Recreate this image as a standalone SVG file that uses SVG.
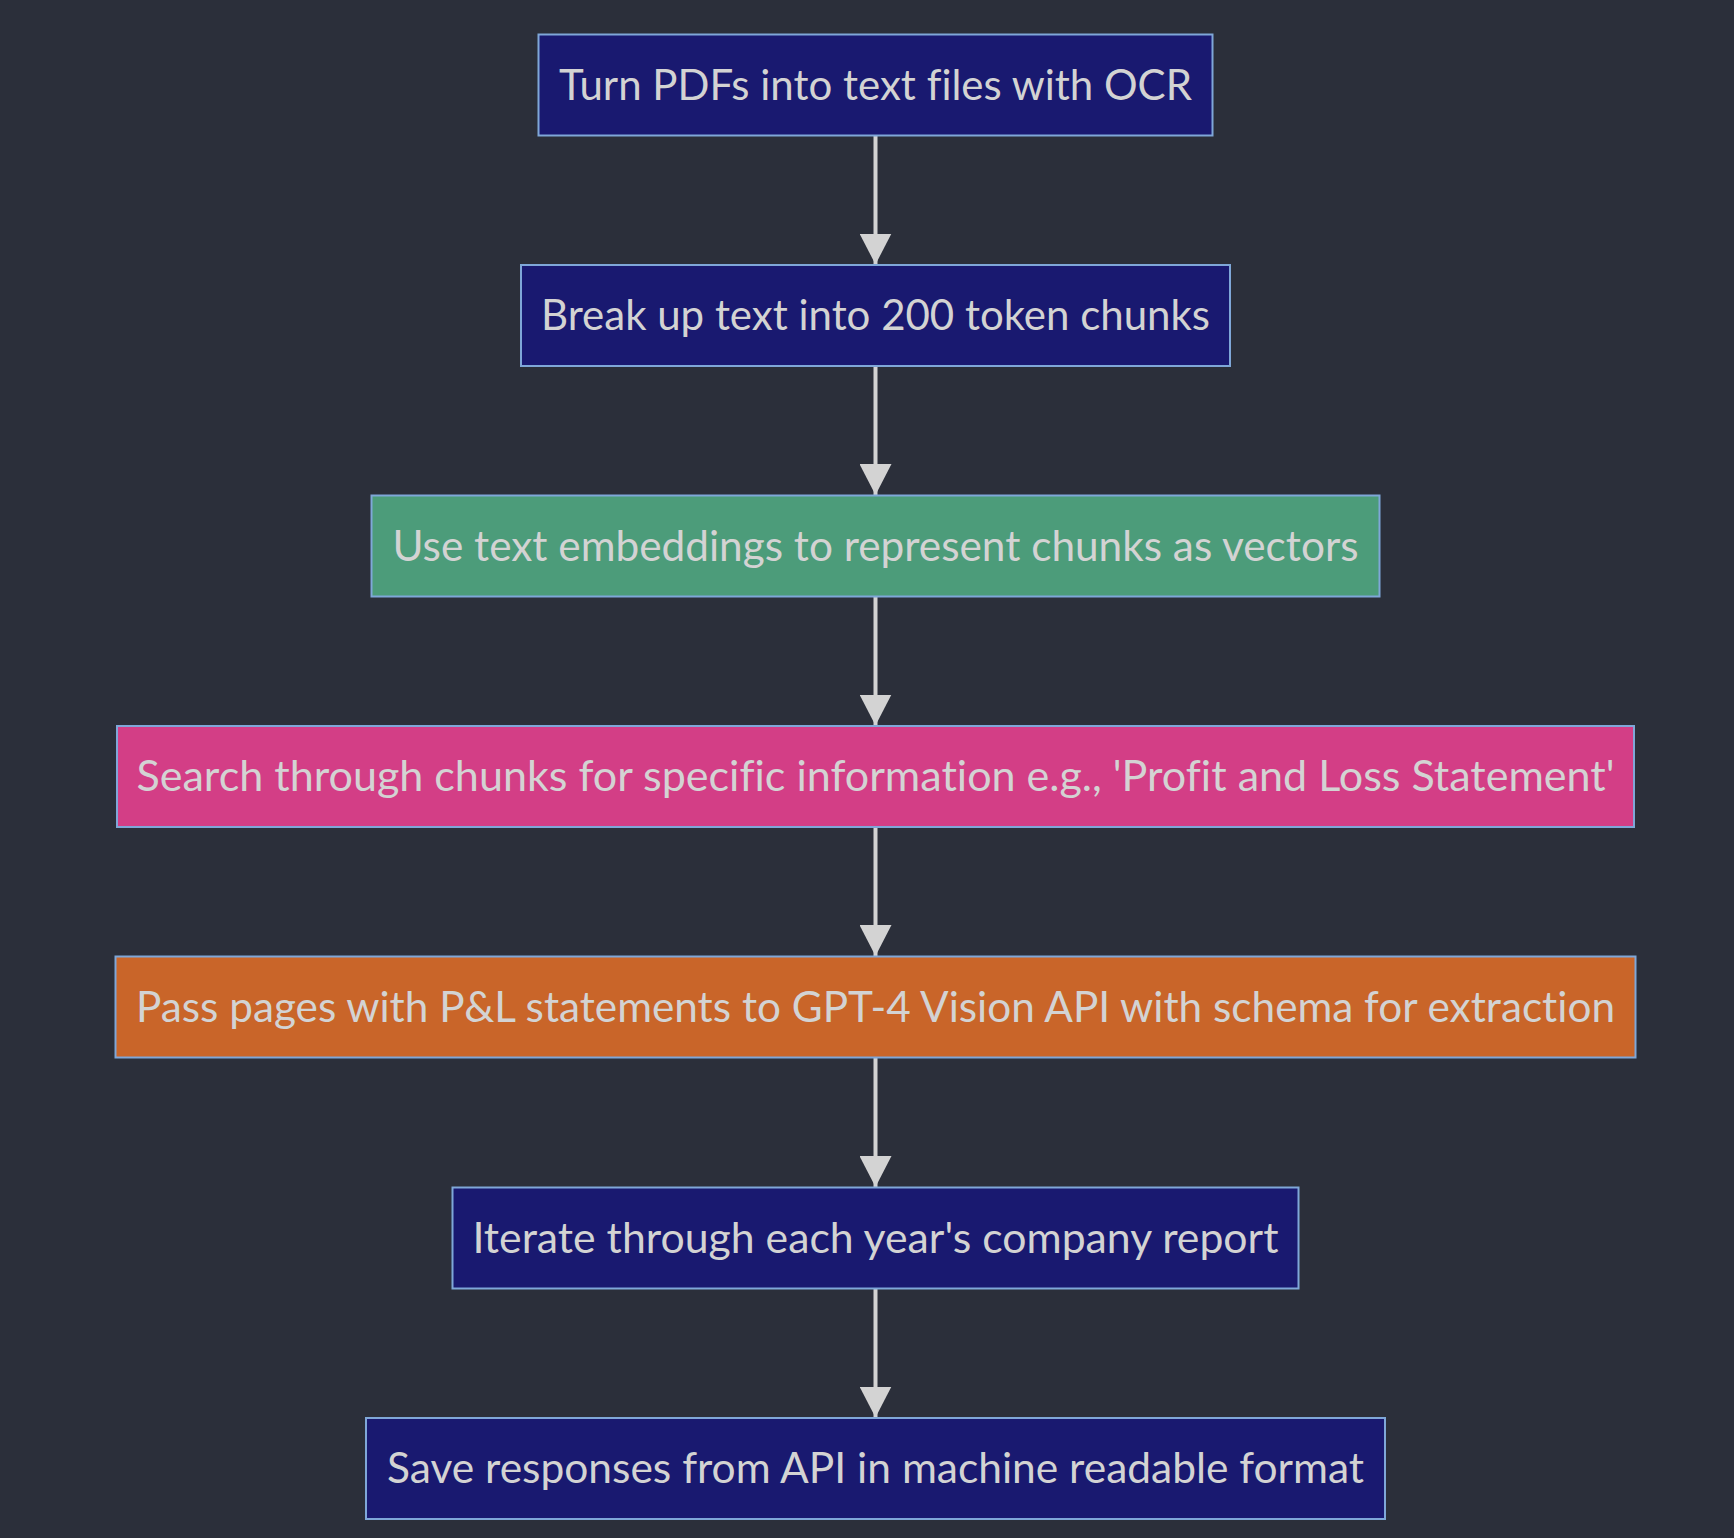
<svg xmlns="http://www.w3.org/2000/svg" width="1734" height="1538" viewBox="0 0 1734 1538">
  <style>
    .bg { fill: #2b2f3a; }
    .node rect { stroke: #7fa7d8; stroke-width: 2; }
    .node text { fill: #d3d3d3; font-family: Lato, "Open Sans", "DejaVu Sans", sans-serif; font-size: 42px; text-anchor: middle; font-variant-ligatures: none; }
    .navy { fill: #191970; }
    .green { fill: #4c9c7a; }
    .pink { fill: #d33e86; }
    .orange { fill: #c96529; }
    .edge { stroke: #d3d3d3; stroke-width: 4; fill: none; marker-end: url(#arrow); }
  </style>
  <defs>
    <marker id="arrow" markerUnits="userSpaceOnUse" markerWidth="32" markerHeight="32" refX="31" refY="16" orient="auto" viewBox="0 0 32 32">
      <path d="M0,0 L31,16 L0,32 z" fill="#d3d3d3"/>
    </marker>
  </defs>
  <rect class="bg" x="0" y="0" width="1734" height="1538"/>

  <g id="connectors">
    <line class="edge" x1="875.5" y1="136" x2="875.5" y2="264.5"/>
    <line class="edge" x1="875.5" y1="366.5" x2="875.5" y2="495"/>
    <line class="edge" x1="875.5" y1="597" x2="875.5" y2="725.5"/>
    <line class="edge" x1="875.5" y1="827.5" x2="875.5" y2="956"/>
    <line class="edge" x1="875.5" y1="1058" x2="875.5" y2="1187"/>
    <line class="edge" x1="875.5" y1="1289" x2="875.5" y2="1417.5"/>
  </g>

  <g id="ocr" class="node">
    <rect class="navy" x="538.5" y="34.5" width="674" height="101"/>
    <text x="875.5" y="99.5" textLength="633" lengthAdjust="spacingAndGlyphs">Turn PDFs into text files with OCR</text>
  </g>
  <g id="chunk" class="node">
    <rect class="navy" x="521" y="265" width="709" height="101"/>
    <text x="875.5" y="330" textLength="669" lengthAdjust="spacingAndGlyphs">Break up text into 200 token chunks</text>
  </g>
  <g id="embed" class="node">
    <rect class="green" x="371.5" y="495.5" width="1008" height="101"/>
    <text x="875.5" y="560.5" textLength="966" lengthAdjust="spacingAndGlyphs">Use text embeddings to represent chunks as vectors</text>
  </g>
  <g id="search" class="node">
    <rect class="pink" x="117" y="726" width="1517" height="101"/>
    <text x="875.5" y="791" textLength="1478" lengthAdjust="spacingAndGlyphs">Search through chunks for specific information e.g., 'Profit and Loss Statement'</text>
  </g>
  <g id="vision" class="node">
    <rect class="orange" x="115.5" y="956.5" width="1520" height="101"/>
    <text x="875.5" y="1021.5" textLength="1479" lengthAdjust="spacingAndGlyphs">Pass pages with P&amp;L statements to GPT-4 Vision API with schema for extraction</text>
  </g>
  <g id="iterate" class="node">
    <rect class="navy" x="452.5" y="1187.5" width="846" height="101"/>
    <text x="875.5" y="1252.5" textLength="806" lengthAdjust="spacingAndGlyphs">Iterate through each year's company report</text>
  </g>
  <g id="save" class="node">
    <rect class="navy" x="366" y="1418" width="1019" height="101"/>
    <text x="875.5" y="1483" textLength="977" lengthAdjust="spacingAndGlyphs">Save responses from API in machine readable format</text>
  </g>
</svg>
